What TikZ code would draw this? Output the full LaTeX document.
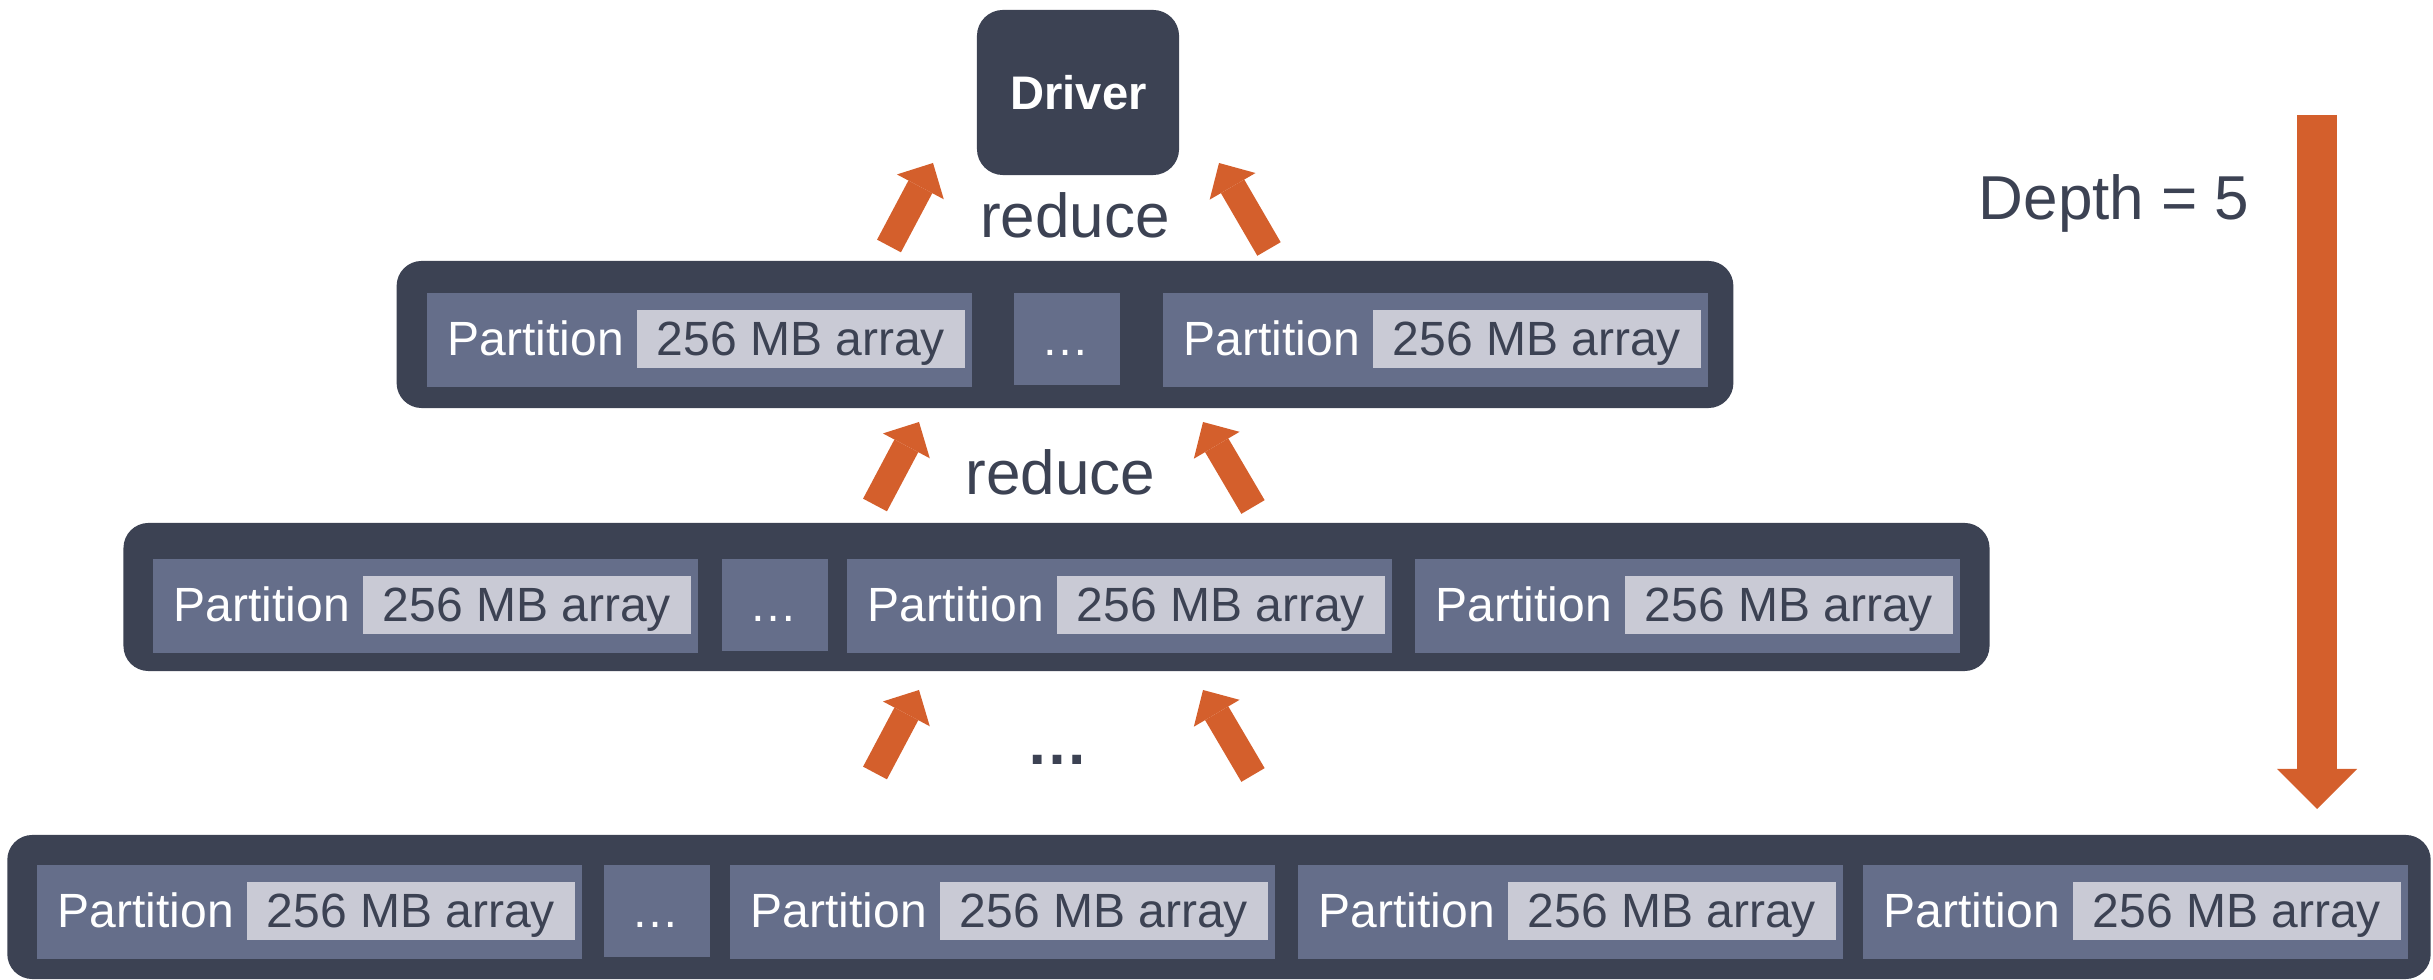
\documentclass[tikz,border=0pt]{standalone}
\usepackage{fontspec}
\setmainfont{Liberation Sans}
\usetikzlibrary{arrows.meta}

\definecolor{slatedark}{HTML}{3C4253}
\definecolor{slatemid}{HTML}{656E8A}
\definecolor{slatelight}{HTML}{C9CAD5}
\definecolor{rust}{HTML}{D45F2C}

\tikzset{
  rowbox/.style={fill=slatedark, draw=none, rounded corners=0.25cm, inner sep=0pt},
  drvbox/.style={fill=slatedark, draw=none, rounded corners=0.26cm, inner sep=0pt,
                 minimum width=2.02cm, minimum height=1.65cm},
  partfill/.style={fill=slatemid, draw=none, inner sep=0pt,
                   minimum width=5.45cm, minimum height=0.94cm},
  dotsfill/.style={fill=slatemid, draw=none, inner sep=0pt,
                   minimum width=1.06cm, minimum height=0.92cm},
  arrfill/.style={fill=slatelight, draw=none, inner sep=0pt,
                  minimum width=3.28cm, minimum height=0.58cm},
  ptext/.style={inner sep=0pt, text=white, font=\fontsize{13.66pt}{16pt}\selectfont},
  atext/.style={inner sep=0pt, text=slatedark, font=\fontsize{13.66pt}{16pt}\selectfont},
  bigtext/.style={inner sep=0pt, text=slatedark, font=\fontsize{17.64pt}{21pt}\selectfont},
  blockarrow/.style={draw=rust, line width=7.68pt,
    -{Triangle[width=15.08pt,length=7.68pt,line width=0pt]}},
  deptharrow/.style={draw=rust, line width=11.38pt,
    -{Triangle[width=22.76pt,length=11.38pt,line width=0pt]}},
}

% one partition: name, left edge, top edge (pixel units)
\newcommand\partbox[3]{%
  \node[partfill, anchor=north west] (#1) at (#2,#3) {};
  \node[arrfill, anchor=west] (#1a) at ({#2+210},{#3+47}) {};
  \node[ptext, anchor=base west] (#1t) at ({#2+21},{#3+64}) {Partition};
  \node[atext, anchor=base] (#1n) at (#1a.center |- #1t.base) {256 MB array};
}
% the "..." placeholder box: name, left edge, top edge
\newcommand\dotsbox[3]{%
  \node[dotsfill, anchor=north west] (#1) at (#2,#3) {};
  \node[ptext, anchor=base] (#1t) at ({#2+53},{#3+64}) {…};
}

\begin{document}
\begin{tikzpicture}[x=0.01cm, y=-0.01cm]
  \useasboundingbox (0,0) rectangle (2433,980);

  % driver
  \node[drvbox] (driver) at (1078,92.5) {};
  \node[inner sep=0pt, text=white, anchor=base,
        font=\fontsize{13.4pt}{16pt}\selectfont\bfseries] (drvt) at (1078.5,110) {Driver};

  % level 1
  \node[rowbox, minimum width=13.36cm, minimum height=1.47cm] (row1) at (1065,334.5) {};
  \partbox{ra}{426}{292}
  \dotsbox{rd}{1013}{292}
  \partbox{rb}{1162}{292}

  % level 2
  \node[rowbox, minimum width=18.65cm, minimum height=1.48cm] (row2) at (1056.5,597) {};
  \partbox{sa}{152}{558}
  \dotsbox{sd}{721}{558}
  \partbox{sb}{846}{558}
  \partbox{sc}{1414}{558}

  % level 3
  \node[rowbox, minimum width=24.22cm, minimum height=1.44cm] (row3) at (1219,907) {};
  \partbox{ta}{36}{864}
  \dotsbox{td}{603}{864}
  \partbox{tb}{729}{864}
  \partbox{tc}{1297}{864}
  \partbox{te}{1862}{864}

  % labels
  \node[bigtext, anchor=base] (red1) at (1075,238) {reduce};
  \node[bigtext, anchor=base] (red2) at (1060.5,495) {reduce};
  \node[bigtext, anchor=base, font=\fontsize{17.64pt}{21pt}\selectfont\bfseries] (more) at (1057.5,765) {…};
  \node[bigtext, anchor=base west] (depth) at (1978,220) {Depth = 5};

  % reduce arrows
  \coordinate (a1s) at (889,246);  \coordinate (a1e) at (933,163);
  \coordinate (a2s) at (1269,249); \coordinate (a2e) at (1219,163);
  \coordinate (b1s) at (875,505);  \coordinate (b1e) at (919,422);
  \coordinate (b2s) at (1253,507); \coordinate (b2e) at (1203,422);
  \coordinate (c1s) at (875,773);  \coordinate (c1e) at (919,690);
  \coordinate (c2s) at (1253,775); \coordinate (c2e) at (1203,690);
  \foreach \p in {a1,a2,b1,b2,c1,c2}
    \draw[blockarrow] (\p s) -- (\p e);

  % depth arrow
  \coordinate (dtop) at (2317,115);
  \coordinate (dbot) at (2317,809);
  \draw[deptharrow] (dtop) -- (dbot);
\end{tikzpicture}
\end{document}
